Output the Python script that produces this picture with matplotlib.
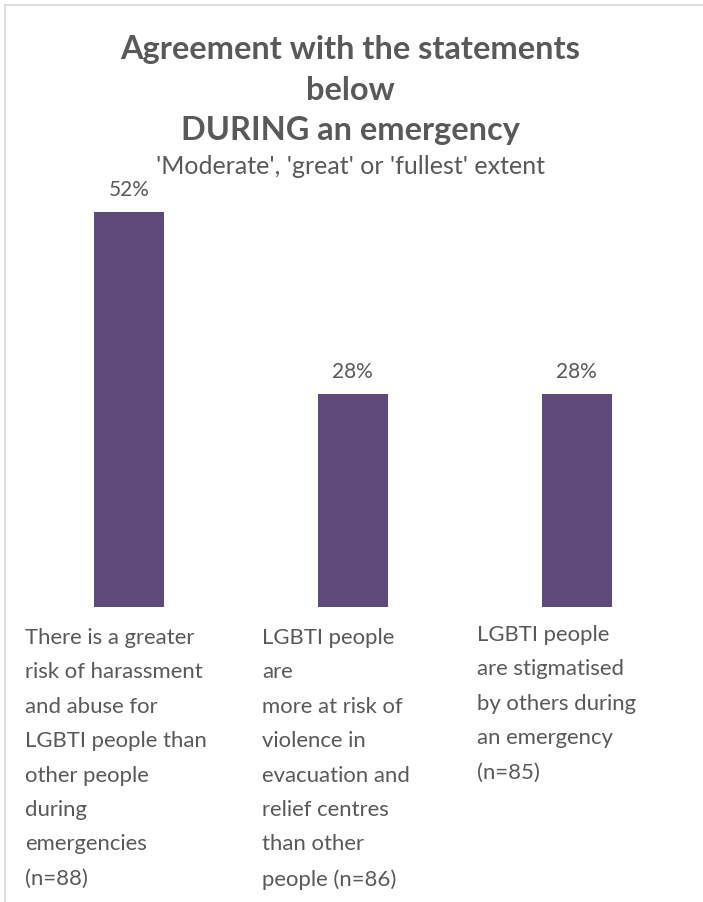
import matplotlib
matplotlib.use("Agg")
import matplotlib.pyplot as plt
from matplotlib.lines import Line2D

categories = [
    "There is a greater\nrisk of harassment\nand abuse for\nLGBTI people than\nother people\nduring\nemergencies\n(n=88)",
    "LGBTI people\nare\nmore at risk of\nviolence in\nevacuation and\nrelief centres\nthan other\npeople (n=86)",
    "LGBTI people\nare stigmatised\nby others during\nan emergency\n(n=85)",
]
values = [52, 28, 28]
value_labels = ["52%", "28%", "28%"]
title_text = "Agreement with the statements\nbelow\nDURING an emergency"
subtitle_text = "'Moderate', 'great' or 'fullest' extent"

W, H = 703, 902
BAR_COLOR = "#5F4B7B"
TEXT_COLOR = "#595959"
FONT = ["Lato", "DejaVu Sans"]

plt.rcParams['font.family'] = FONT

fig = plt.figure(figsize=(W / 100, H / 100), dpi=100)
fig.patch.set_facecolor("white")

def px(x, y):
    return x / W, 1 - y / H

# border lines (chart frame)
fig.add_artist(Line2D([5 / W, 1.0], [1 - 5 / H, 1 - 5 / H], color="#D9D9D9", lw=1.2))
fig.add_artist(Line2D([5 / W, 5 / W], [0, 1 - 5 / H], color="#D9D9D9", lw=1.2))

# axes: x from -0.5..2.5 maps 17..688.5 px ; y baseline at 607 px, 7.6 px per %
left = 17 / W
right = 688.5 / W
ymax = 60
bottom = (H - 607) / H
height = ymax * 7.6 / H
ax = fig.add_axes([left, bottom, right - left, height])
x = list(range(len(values)))
bars = ax.bar(x, values, width=0.3125, color=BAR_COLOR)
ax.set_xlim(-0.5, 2.5)
ax.set_ylim(0, ymax)
ax.axis("off")

for xi, v, lab in zip(x, values, value_labels):
    ax.annotate(lab, (xi, v), xytext=(0, 12), textcoords="offset pixels",
                ha="center", va="bottom", fontsize=15, color=TEXT_COLOR)

# title and subtitle
tx, ty = px(350, 90)
fig.text(tx, ty, title_text, ha="center", va="center", fontsize=23.4, fontweight="bold",
         color=TEXT_COLOR, linespacing=1.47)
sx, sy = px(351, 167)
fig.text(sx, sy, subtitle_text, ha="center", va="center", fontsize=18, color=TEXT_COLOR)

# category labels
label_pos = [(25, 628), (262, 628), (477, 625)]
for (lx, ly), cat in zip(label_pos, categories):
    fx, fy = px(lx, ly)
    fig.text(fx, fy, cat, ha="left", va="top", fontsize=15.9, color=TEXT_COLOR,
             linespacing=1.9)

fig.savefig("out.png", dpi=100)
